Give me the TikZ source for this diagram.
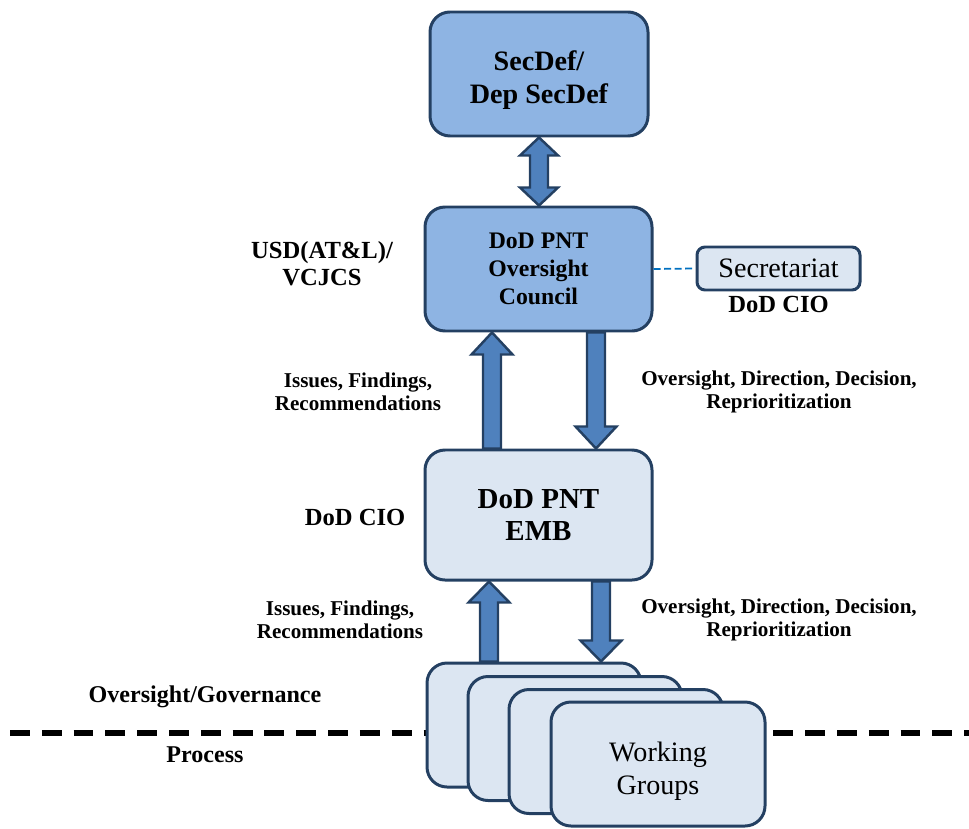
\documentclass[tikz,border=0pt]{standalone}
\usepackage{fontspec}
\setmainfont{Liberation Serif}
\usepackage{tikz}
\usetikzlibrary{positioning, calc}

\definecolor{boxline}{RGB}{36,64,98}
\definecolor{darkfill}{RGB}{142,180,227}
\definecolor{lightfill}{RGB}{220,230,242}
\definecolor{arrowfill}{RGB}{79,129,189}
\definecolor{linkblue}{RGB}{0,112,192}

% block arrow from #1 to the tip at #2, #3 = signed head length
\newcommand{\blockarrow}[3]{%
  \draw[block arrow] let \p1=(#1), \p2=(#2) in
    (\x1-0.18cm,\y1) -- (\x1-0.18cm,{\y2-(#3)}) -- (\x1-0.41cm,{\y2-(#3)}) -- (\x1,\y2)
    -- (\x1+0.41cm,{\y2-(#3)}) -- (\x1+0.18cm,{\y2-(#3)}) -- (\x1+0.18cm,\y1) -- cycle;}

\begin{document}
\begin{tikzpicture}[font=\bfseries]
        % Setup the styles for the boxes and the texts
        \tikzset{board style/.style={rectangle,
                                     rounded corners=0.4cm,
                                     draw=boxline,
                                     line width=1.7pt,
                                     align=center,
                                     minimum width=4.54cm,
                                     minimum height=2.48cm},
                 top style/.style={board style, fill=darkfill},
                 low style/.style={board style, fill=lightfill},
                 group style/.style={low style, minimum width=4.28cm},
                 note style/.style={align=center,
                                    font=\bfseries\fontsize{12}{13}\selectfont},
                 block arrow/.style={draw=boxline, line width=1.4pt,
                                     fill=arrowfill, line join=miter}}
        \useasboundingbox (0,0) rectangle (19.38,16.56);

        % The line between oversight and process
        \draw[line width=3.5pt, dash pattern=on 11.3pt off 6.8pt] (0.2,1.9) -- (19.38,1.9);

        % Draw the boxes
        \node[top style, minimum width=4.36cm, label={[align=center, yshift=-0.13cm, font=\bfseries\fontsize{16}{18.7}\selectfont]center:{SecDef/\\Dep SecDef}}] at (10.78,15.08) (secdef) {};
        \node[top style, font=\bfseries\fontsize{13.5}{16}\selectfont] at (10.77,11.18) (council) {DoD PNT\\Oversight\\Council};
        \node[low style, rounded corners=0.16cm, minimum width=3.26cm, minimum height=0.86cm,
              font=\mdseries\fontsize{16}{19}\selectfont] at (15.57,11.19) (secretariat) {Secretariat};
        \node[low style, minimum height=2.6cm, font=\bfseries\fontsize{16.5}{18.7}\selectfont] at (10.77,6.26) (emb) {DoD PNT\\EMB};
        \node[group style] at (10.68,2.06) (wg1) {};
        \node[group style] at (11.50,1.79) (wg2) {};
        \node[group style] at (12.32,1.53) (wg3) {};
        \node[group style, label={[align=center, yshift=-0.14cm, font=\mdseries\fontsize{16}{19}\selectfont]center:{Working\\Groups}}] at (13.16,1.28) (wg4) {};

        % Draw the texts
        \node[note style, font=\bfseries\fontsize{14}{15.5}\selectfont] at (6.44,11.28) (usd) {USD(AT\&L)/\\VCJCS};
        \node[note style, font=\bfseries\fontsize{14}{15}\selectfont, below=-0.03cm of secretariat] (seccio) {DoD CIO};
        \node[note style] at (7.16,8.72) (issues up) {Issues, Findings,\\Recommendations};
        \node[note style] at (15.58,8.72) (orders up) {Oversight, Direction, Decision,\\Reprioritization};
        \node[note style, font=\bfseries\fontsize{14}{15}\selectfont] at (7.1,6.22) (embcio) {DoD CIO};
        \node[note style] at (6.8,4.16) (issues low) {Issues, Findings,\\Recommendations};
        \node[note style] at (15.58,4.16) (orders low) {Oversight, Direction, Decision,\\Reprioritization};
        \node[note style, font=\bfseries\fontsize{13.7}{16}\selectfont] at (4.1,2.62) (governance) {Oversight/Governance};
        \node[note style, font=\bfseries\fontsize{13.7}{16}\selectfont] at (4.1,1.46) (process) {Process};

        % Connect the boxes
        \coordinate (up1 foot) at ($(emb.north)+(-0.93,0)$);
        \coordinate (up1 tip) at ($(council.south)+(-0.93,0)$);
        \coordinate (dn1 foot) at ($(council.south)+(1.15,0)$);
        \coordinate (dn1 tip) at ($(emb.north)+(1.15,0)$);
        \coordinate (up2 tip) at ($(emb.south)+(-0.99,0)$);
        \coordinate (up2 foot) at (up2 tip |- wg1.north);
        \coordinate (dn2 foot) at ($(emb.south)+(1.25,0)$);
        \coordinate (dn2 tip) at (dn2 foot |- wg1.north);
        \blockarrow{up1 foot}{up1 tip}{0.44cm}
        \blockarrow{dn1 foot}{dn1 tip}{-0.44cm}
        \blockarrow{up2 foot}{up2 tip}{0.42cm}
        \blockarrow{dn2 foot}{dn2 tip}{-0.42cm}
        \draw[block arrow] let \p1=(secdef.south), \p2=(council.north) in
            (\x1,\y1) -- (\x1+0.38cm,\y1-0.36cm) -- (\x1+0.18cm,\y1-0.36cm)
            -- (\x1+0.18cm,\y2+0.36cm) -- (\x1+0.38cm,\y2+0.36cm) -- (\x1,\y2)
            -- (\x1-0.38cm,\y2+0.36cm) -- (\x1-0.18cm,\y2+0.36cm)
            -- (\x1-0.18cm,\y1-0.36cm) -- (\x1-0.38cm,\y1-0.36cm) -- cycle;
        \draw[linkblue, line width=1pt, dash pattern=on 4pt off 2pt] (council.east) -- (secretariat.west);
\end{tikzpicture}
\end{document}
